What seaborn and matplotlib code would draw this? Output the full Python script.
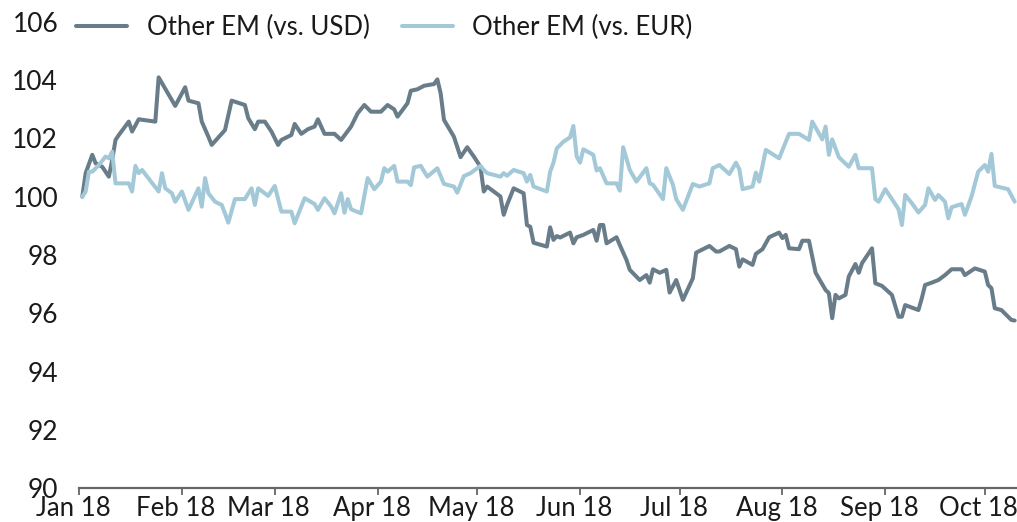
import matplotlib
matplotlib.use("Agg")
import matplotlib.pyplot as plt
import matplotlib.transforms as mtransforms
import seaborn as sns
import pandas as pd

# ---- data (days since 1 Jan 2018, index values) ----
usd_days = [1, 2, 4, 5, 7, 9, 10, 11, 12, 15, 16, 18, 23, 24, 29, 32, 33, 36, 37, 39, 40, 44, 46, 50, 51, 53, 54, 56, 58, 60,
            61, 64, 65, 67, 69, 71, 72, 74, 77, 79, 82, 84, 86, 88, 91, 93, 95, 96, 99, 100, 102, 104, 107, 108, 109, 110,
            113, 115, 117, 119, 121, 122, 123, 127, 128, 129, 131, 134, 135, 136, 137, 141, 142, 143, 144, 145, 148, 149,
            150, 152, 155, 156, 157, 158, 159, 162, 163, 165, 166, 169, 171, 172, 173, 175, 177, 178, 180, 182, 185, 186,
            190, 192, 193, 196, 198, 199, 200, 203, 204, 206, 208, 211, 212, 213, 214, 217, 218, 220, 222, 225, 226, 227,
            228, 229, 231, 232, 234, 235, 236, 239, 240, 242, 245, 247, 248, 249, 253, 254, 255, 257, 259, 261, 263, 266,
            267, 270, 273, 274, 275, 276, 278, 281, 282]
usd_vals = [100.0, 100.81, 101.44, 101.15, 101.03, 100.69, 101.26, 101.95, 102.12, 102.58, 102.24, 102.66, 102.58, 104.10,
            103.12, 103.76, 103.30, 103.21, 102.58, 102.06, 101.78, 102.29, 103.30, 103.15, 102.70, 102.32, 102.58, 102.58,
            102.24, 101.78, 101.95, 102.12, 102.50, 102.16, 102.32, 102.41, 102.66, 102.16, 102.16, 101.95, 102.41, 102.87,
            103.15, 102.92, 102.92, 103.15, 103.00, 102.75, 103.21, 103.64, 103.69, 103.81, 103.87, 104.03, 103.55, 102.64,
            102.06, 101.36, 101.70, 101.38, 101.03, 100.18, 100.35, 100.01, 99.38, 99.72, 100.29, 100.12, 99.03, 98.97,
            98.42, 98.29, 98.95, 98.52, 98.65, 98.60, 98.77, 98.40, 98.61, 98.69, 98.86, 98.49, 99.03, 99.03, 98.40, 98.61,
            98.34, 97.83, 97.49, 97.14, 97.31, 97.05, 97.51, 97.39, 97.49, 96.71, 97.14, 96.46, 97.20, 98.08, 98.31, 98.12,
            98.12, 98.31, 98.20, 97.60, 97.85, 97.66, 98.04, 98.20, 98.61, 98.77, 98.58, 98.69, 98.23, 98.20, 98.49, 98.49,
            97.39, 96.80, 96.69, 95.83, 96.63, 96.51, 96.63, 97.26, 97.69, 97.39, 97.72, 98.23, 97.03, 96.94, 96.63, 95.88,
            95.88, 96.28, 96.11, 96.51, 96.97, 97.05, 97.14, 97.31, 97.51, 97.51, 97.31, 97.54, 97.43, 96.97, 96.86, 96.17,
            96.11, 95.77, 95.75]

eur_days = [1, 2, 3, 4, 6, 8, 9, 10, 11, 15, 16, 17, 18, 19, 24, 25, 26, 28, 29, 31, 33, 36, 37, 38, 39, 41, 43, 44, 45, 47,
            50, 52, 53, 54, 57, 59, 61, 64, 65, 68, 71, 72, 74, 76, 77, 79, 80, 81, 82, 85, 87, 89, 91, 92, 93, 95, 96, 99,
            100, 101, 103, 105, 108, 110, 113, 114, 116, 118, 121, 122, 123, 127, 128, 129, 131, 134, 135, 136, 137, 141,
            142, 143, 144, 146, 148, 149, 150, 151, 152, 155, 156, 157, 159, 162, 163, 164, 166, 168, 171, 172, 173, 176,
            177, 179, 180, 182, 185, 187, 190, 191, 193, 196, 198, 199, 200, 203, 204, 205, 207, 211, 214, 217, 220, 221,
            224, 225, 226, 227, 229, 232, 234, 235, 239, 240, 241, 243, 245, 247, 248, 249, 251, 253, 255, 256, 258, 259,
            261, 262, 263, 266, 267, 269, 271, 273, 274, 275, 276, 280, 282]
eur_vals = [100.0, 100.18, 100.86, 100.86, 101.09, 101.38, 101.32, 101.55, 100.46, 100.46, 100.18, 101.06, 100.81, 100.92,
            100.18, 100.81, 100.29, 100.12, 99.83, 100.18, 99.55, 100.29, 99.66, 100.64, 100.12, 99.83, 99.72, 99.43, 99.11,
            99.92, 99.92, 100.29, 99.72, 100.29, 100.03, 100.37, 99.49, 99.49, 99.09, 99.95, 99.75, 99.55, 99.95, 99.66,
            99.43, 100.12, 99.45, 99.92, 99.57, 99.43, 100.64, 100.26, 100.52, 100.98, 100.86, 101.06, 100.52, 100.52,
            100.40, 101.01, 101.06, 100.69, 100.98, 100.44, 100.35, 100.14, 100.71, 100.81, 101.06, 100.92, 100.81, 100.69,
            100.81, 100.72, 100.92, 100.81, 100.52, 100.75, 100.35, 100.18, 100.86, 101.17, 101.66, 101.89, 102.04, 102.43,
            101.38, 101.17, 101.63, 101.44, 100.90, 100.98, 100.46, 100.46, 100.21, 101.70, 100.92, 100.52, 100.98, 100.46,
            100.41, 99.92, 100.98, 100.41, 99.92, 99.55, 100.44, 100.35, 100.46, 100.98, 101.09, 100.78, 101.17, 100.95,
            100.26, 100.35, 100.83, 100.52, 101.61, 101.32, 102.16, 102.16, 101.95, 102.58, 101.97, 102.41, 101.44, 101.97,
            101.36, 101.03, 101.44, 100.98, 100.98, 99.92, 99.83, 100.26, 99.92, 99.57, 99.03, 100.06, 99.78, 99.46, 99.72,
            100.29, 99.89, 100.06, 99.83, 99.26, 99.64, 99.75, 99.38, 100.01, 100.86, 101.09, 100.86, 101.47, 100.37, 100.26,
            99.83]

series_names = ["Other EM (vs. USD)", "Other EM (vs. EUR)"]
series_colors = ["#687D89", "#A3C8D8"]
month_ticks = ["2018-01-01", "2018-02-01", "2018-03-01", "2018-04-01", "2018-05-01",
               "2018-06-01", "2018-07-01", "2018-08-01", "2018-09-01", "2018-10-01"]
month_labels = ["Jan 18", "Feb 18", "Mar 18", "Apr 18", "May 18",
                "Jun 18", "Jul 18", "Aug 18", "Sep 18", "Oct 18"]
y_ticks = [90, 92, 94, 96, 98, 100, 102, 104, 106]

# ---- build frame ----
start = pd.Timestamp("2018-01-01")
df = pd.concat([
    pd.DataFrame({"date": start + pd.to_timedelta(usd_days, unit="D"), "value": usd_vals, "series": series_names[0]}),
    pd.DataFrame({"date": start + pd.to_timedelta(eur_days, unit="D"), "value": eur_vals, "series": series_names[1]}),
], ignore_index=True)

sns.set_theme(style="white")
plt.rcParams["font.family"] = ["Lato", "DejaVu Sans"]
text_color = "#1a1a1a"

fig = plt.figure(figsize=(10.17, 5.22), dpi=100)
ax = fig.add_axes([79 / 1017, 1 - 488 / 522, 1 - 79 / 1017, (488 - 22) / 522])

sns.lineplot(data=df, x="date", y="value", hue="series", hue_order=series_names,
             palette=series_colors, linewidth=2.9, estimator=None, sort=False, ax=ax)

ax.set_ylim(90, 106)
ax.set_xlim(start, start + pd.Timedelta(days=282.7))
ax.set_yticks(y_ticks)
ax.set_yticklabels([str(v) for v in y_ticks])
ax.set_xticks(pd.to_datetime(month_ticks))
ax.set_xticklabels(month_labels)
ax.set_xlabel("")
ax.set_ylabel("")

for s in ["left", "right", "top"]:
    ax.spines[s].set_visible(False)
ax.spines["bottom"].set_color("#666666")
ax.spines["bottom"].set_linewidth(1.6)

ax.tick_params(axis="x", direction="out", length=5, width=1.3, color="#666666",
               labelsize=18.5, labelcolor=text_color, pad=0.5, bottom=True)
ax.tick_params(axis="y", length=0, labelsize=19, labelcolor=text_color, pad=15)

# labels in the reference sit slightly left of their ticks
shift = mtransforms.ScaledTranslation(-6 / 100, 0, fig.dpi_scale_trans)
for lbl in ax.get_xticklabels():
    lbl.set_transform(lbl.get_transform() + shift)

handles, labels = ax.get_legend_handles_labels()
ax.get_legend().remove()
fig.legend(handles, labels, loc="center left", bbox_to_anchor=(76 / 1017, 1 - 27 / 522),
           ncol=2, frameon=False, fontsize=18.5, handlelength=2.0, handletextpad=0.75,
           columnspacing=1.25, borderpad=0, borderaxespad=0, labelcolor=text_color)

fig.savefig("out.png", dpi=100)
